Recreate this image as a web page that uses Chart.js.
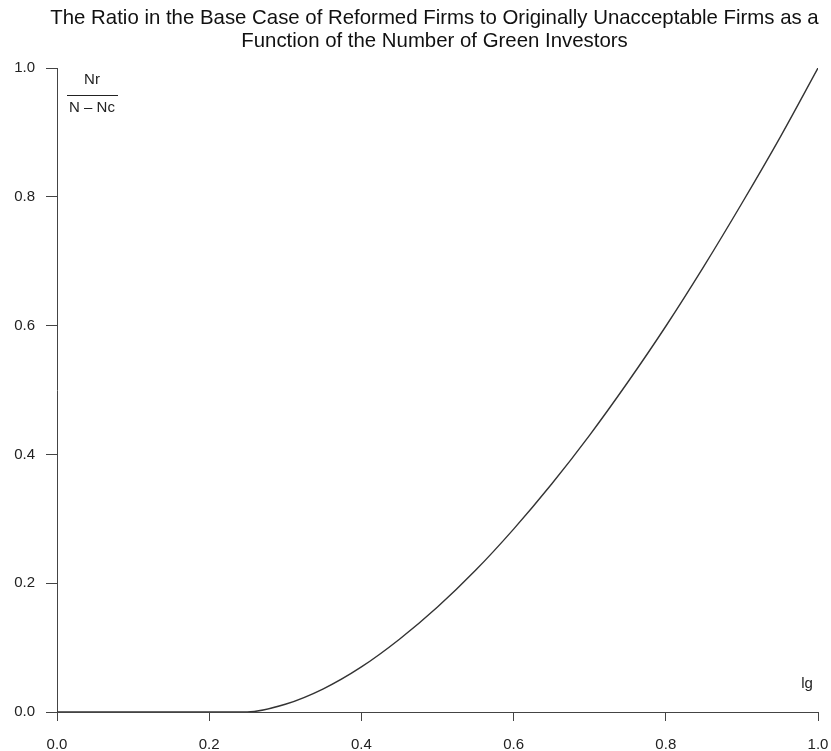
<!DOCTYPE html>
<html>
<head>
<meta charset="utf-8">
<script src="https://cdn.jsdelivr.net/npm/chart.js@4"></script>
<style>
  html, body { margin: 0; padding: 0; background: #fff; }
  #wrap { width: 831px; height: 751px; }
</style>
</head>
<body>
<div id="wrap"><canvas id="chart" width="831" height="751"></canvas></div>
<script>
// share of green investors (x) and ratio Nr / (N - Nc) (y)
const greenShare = [0, 0.25, 0.30, 0.35, 0.40, 0.45, 0.50, 0.55, 0.60, 0.65, 0.70, 0.75, 0.80, 0.85, 0.90, 0.95, 1.0];
const reformRatio = [0, 0, 0.012, 0.036, 0.070, 0.113, 0.163, 0.220, 0.284, 0.354, 0.430, 0.512, 0.599, 0.692, 0.790, 0.892, 1.0];
const tickValues = [0, 0.2, 0.4, 0.6, 0.8, 1.0];

const titleLines = [
  "The Ratio in the Base Case of Reformed Firms to Originally Unacceptable Firms as a",
  "Function of the Number of Green Investors"
];

const points = greenShare.map((x, i) => ({ x: x, y: reformRatio[i] }));
const FONT = "'Liberation Sans', Arial, sans-serif";

// title (centred over the plot) and the captions inside the plot
const captions = {
  id: "captions",
  afterDraw(chart) {
    const ctx = chart.ctx;
    const xs = chart.scales.x, ys = chart.scales.y;
    ctx.save();
    ctx.fillStyle = "#111";
    ctx.textAlign = "center";
    ctx.textBaseline = "middle";
    ctx.font = "20.4px " + FONT;
    const tx = (xs.left + xs.right) / 2 - 3;
    ctx.fillText(titleLines[0], tx, 18);
    ctx.fillText(titleLines[1], tx, 41);

    ctx.fillStyle = "#222";
    ctx.font = "15px " + FONT;
    const cx = xs.left + 35;
    ctx.fillText("Nr", cx, ys.top + 12);
    ctx.fillText("N – Nc", cx, ys.top + 40);
    ctx.strokeStyle = "#222";
    ctx.lineWidth = 1;
    ctx.beginPath();
    ctx.moveTo(xs.left + 10, ys.top + 27.5);
    ctx.lineTo(xs.left + 61, ys.top + 27.5);
    ctx.stroke();
    ctx.fillText("lg", xs.right - 11, ys.bottom - 28);
    ctx.restore();
  }
};

new Chart(document.getElementById("chart"), {
  type: "line",
  data: {
    datasets: [{
      data: points,
      borderColor: "#333",
      borderWidth: 1.4,
      pointRadius: 0,
      fill: false,
      cubicInterpolationMode: "monotone"
    }]
  },
  options: {
    responsive: false,
    animation: false,
    layout: { padding: { left: 0, right: 13, top: 68, bottom: 0 } },
    plugins: {
      legend: { display: false },
      tooltip: { enabled: false },
      title: { display: false }
    },
    scales: {
      x: {
        type: "linear",
        min: 0,
        max: 1,
        afterBuildTicks(scale) { scale.ticks = tickValues.map(v => ({ value: v })); },
        afterFit(scale) {
          scale.height = 39;
          scale.paddingLeft = 0;
          scale.paddingRight = 0;
        },
        grid: { drawOnChartArea: false, drawTicks: true, tickLength: 9, color: "#444" },
        border: { display: true, color: "#444", width: 1 },
        ticks: {
          padding: 15,
          color: "#222",
          font: { family: FONT, size: 15 },
          maxRotation: 0,
          callback: v => v.toFixed(1)
        }
      },
      y: {
        min: 0,
        max: 1,
        afterBuildTicks(scale) { scale.ticks = tickValues.map(v => ({ value: v })); },
        afterFit(scale) {
          scale.width = 57;
          scale.paddingTop = 0;
          scale.paddingBottom = 0;
        },
        grid: { drawOnChartArea: false, drawTicks: true, tickLength: 11, color: "#444" },
        border: { display: true, color: "#444", width: 1 },
        ticks: {
          padding: 11,
          color: "#222",
          font: { family: FONT, size: 15 },
          callback: v => v.toFixed(1)
        }
      }
    }
  },
  plugins: [captions]
});
</script>
</body>
</html>
